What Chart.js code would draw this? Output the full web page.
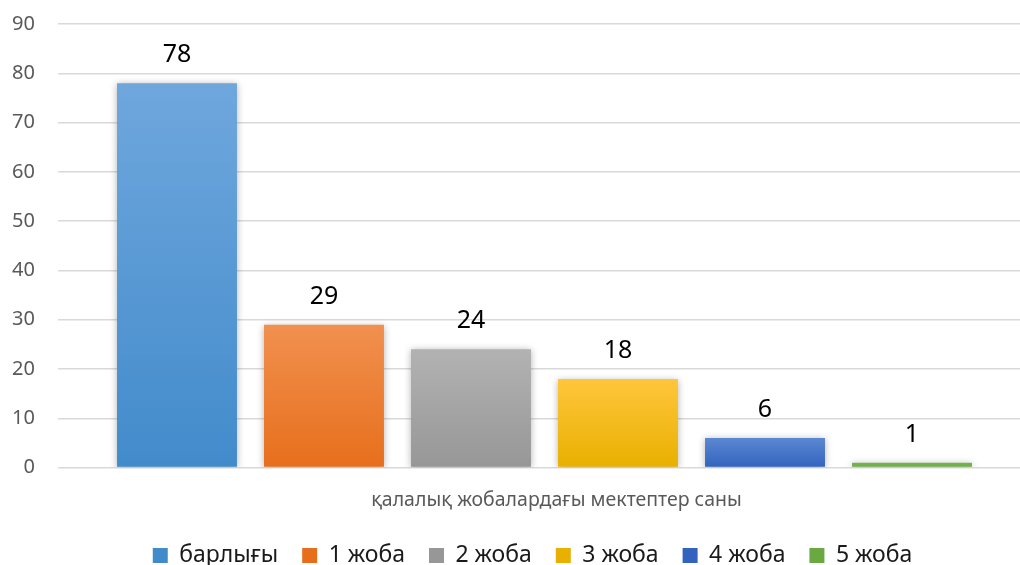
<!DOCTYPE html>
<html>
<head>
<meta charset="utf-8">
<script src="https://cdn.jsdelivr.net/npm/chart.js"></script>
<style>
  html, body { margin: 0; padding: 0; background: #fff; overflow: hidden; }
  #wrap { width: 1031px; height: 565px; position: relative; }
</style>
</head>
<body>
<div id="wrap"><canvas id="schoolChart"></canvas></div>
<script>
// data
var categories = ['қалалық жобалардағы мектептер саны'];
var seriesNames = ['барлығы', '1 жоба', '2 жоба', '3 жоба', '4 жоба', '5 жоба'];
var seriesValues = [78, 29, 24, 18, 6, 1];
var yTicks = [0, 10, 20, 30, 40, 50, 60, 70, 80, 90];

// top / bottom colours of each bar gradient
var topColors = ['#6fa7dd', '#f1904f', '#b2b2b2', '#ffc63c', '#5b88d2', '#78b552'];
var bottomColors = ['#428bcb', '#e76f1c', '#979797', '#e8b000', '#3263be', '#6aa942'];

var FONT = "'Noto Sans', 'DejaVu Sans', sans-serif";

function barGradient(i) {
    return function(context) {
        var chart = context.chart;
        if (!chart.chartArea || !chart.scales.y) return bottomColors[i];
        var y = chart.scales.y;
        var top = y.getPixelForValue(seriesValues[i]);
        var bottom = y.getPixelForValue(0);
        if (bottom - top < 1) return bottomColors[i];
        var g = chart.ctx.createLinearGradient(0, top, 0, bottom);
        g.addColorStop(0, topColors[i]);
        g.addColorStop(1, bottomColors[i]);
        return g;
    };
}

var datasets = seriesNames.map(function(name, i) {
    return {
        label: name,
        data: [seriesValues[i]],
        backgroundColor: barGradient(i),
        borderWidth: 0,
        barPercentage: 0.816,
        categoryPercentage: 0.9065
    };
});

// value labels above the bars + soft shadow
var valueLabels = {
    id: 'valueLabels',
    beforeDatasetsDraw: function(chart) {
        var ctx = chart.ctx;
        ctx.save();
        ctx.shadowColor = 'rgba(0,0,0,0.3)';
        ctx.shadowBlur = 7;
        ctx.shadowOffsetX = 0;
        ctx.shadowOffsetY = 1;
    },
    afterDatasetsDraw: function(chart) {
        var ctx = chart.ctx;
        ctx.restore();
        ctx.save();
        ctx.font = '25px ' + FONT;
        ctx.fillStyle = '#000';
        ctx.textAlign = 'center';
        ctx.textBaseline = 'middle';
        chart.data.datasets.forEach(function(ds, i) {
            var bar = chart.getDatasetMeta(i).data[0];
            ctx.fillText(ds.data[0], bar.x, bar.y - 28);
        });
        ctx.restore();
    }
};

// nudge the legend a bit, like the original layout
var legendNudge = {
    id: 'legendNudge',
    afterLayout: function(chart) {
        var lg = chart.legend;
        lg.left += 11; lg.right += 11;
        lg.top -= 5; lg.bottom -= 5;
    }
};

var ctx = document.getElementById('schoolChart').getContext('2d');
var chart = new Chart(ctx, {
    type: 'bar',
    data: { labels: categories, datasets: datasets },
    options: {
        responsive: true,
        maintainAspectRatio: false,
        animation: false,
        layout: { padding: { top: 24, left: 12, right: 0, bottom: -17 } },
        scales: {
            x: {
                grid: { display: false },
                border: { display: false },
                ticks: {
                    color: '#595959',
                    padding: 13,
                    labelOffset: 12,
                    font: { size: 19.5, family: FONT }
                }
            },
            y: {
                min: 0,
                max: 90,
                afterBuildTicks: function(scale) {
                    scale.ticks = yTicks.map(function(v) { return { value: v }; });
                },
                afterFit: function(scale) {
                    scale.width = 46;
                    scale.paddingTop = 0;
                    scale.paddingBottom = 0;
                },
                grid: { color: '#d9d9d9', lineWidth: 1.5, drawTicks: false },
                border: { display: false },
                ticks: {
                    color: '#595959',
                    padding: 23,
                    font: { size: 20, family: FONT }
                }
            }
        },
        plugins: {
            legend: {
                position: 'bottom',
                labels: {
                    color: '#1a1a1a',
                    boxWidth: 15,
                    boxHeight: 15,
                    padding: 24,
                    font: { size: 23, family: FONT }
                }
            },
            tooltip: { enabled: false }
        }
    },
    plugins: [valueLabels, legendNudge]
});
</script>
</body>
</html>
